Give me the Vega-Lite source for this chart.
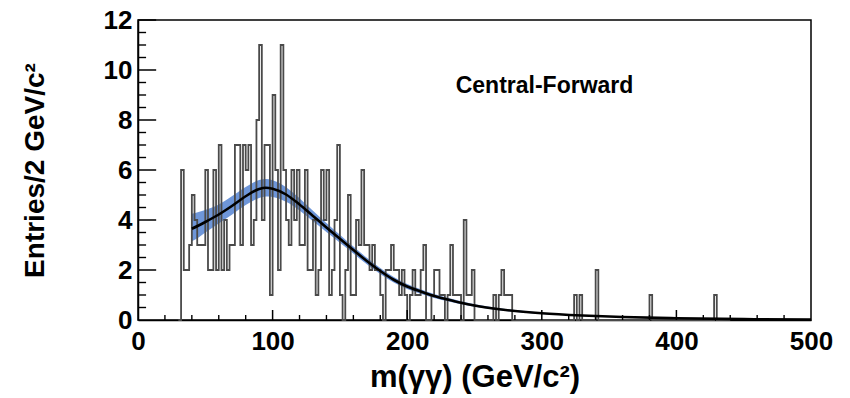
{
  "$schema": "https://vega.github.io/schema/vega-lite/v6.json",
  "width": 673,
  "height": 300,
  "autosize": {"type": "none"},
  "padding": {"left": 138, "top": 20, "right": 39, "bottom": 78},
  "background": "white",
  "config": {
    "view": {"stroke": "#000", "strokeWidth": 1.5},
    "font": "Liberation Sans",
    "axis": {"grid": false, "ticks": false, "labelFlush": false, "domainColor": "#000", "domainWidth": 1.5,
      "labelFont": "Liberation Sans", "labelFontWeight": "bold", "labelFontSize": 26, "labelColor": "#000",
      "titleFont": "Liberation Sans", "titleFontWeight": "bold", "titleColor": "#000"}
  },
  "datasets": {
    "hist": [
      {"m":30,"n":0},{"m":32,"n":6},{"m":34,"n":2},{"m":36,"n":2},{"m":38,"n":3},{"m":40,"n":5},{"m":42,"n":4},{"m":44,"n":3},{"m":46,"n":3},{"m":48,"n":3},
      {"m":50,"n":6},{"m":52,"n":2},{"m":54,"n":2},{"m":56,"n":6},{"m":58,"n":2},{"m":60,"n":7},{"m":62,"n":2},{"m":64,"n":4},{"m":66,"n":2},{"m":68,"n":3},
      {"m":70,"n":3},{"m":72,"n":7},{"m":74,"n":7},{"m":76,"n":3},{"m":78,"n":7},{"m":80,"n":6},{"m":82,"n":7},{"m":84,"n":3},{"m":86,"n":4},{"m":88,"n":8},
      {"m":90,"n":11},{"m":92,"n":4},{"m":94,"n":7},{"m":96,"n":7},{"m":98,"n":1},{"m":100,"n":9},{"m":102,"n":6},{"m":104,"n":2},{"m":106,"n":11},{"m":108,"n":6},
      {"m":110,"n":4},{"m":112,"n":3},{"m":114,"n":6},{"m":116,"n":4},{"m":118,"n":6},{"m":120,"n":3},{"m":122,"n":3},{"m":124,"n":6},{"m":126,"n":2},{"m":128,"n":2},
      {"m":130,"n":4},{"m":132,"n":1},{"m":134,"n":2},{"m":136,"n":6},{"m":138,"n":4},{"m":140,"n":6},{"m":142,"n":1},{"m":144,"n":2},{"m":146,"n":4},{"m":148,"n":7},
      {"m":150,"n":1},{"m":152,"n":0},{"m":154,"n":2},{"m":156,"n":5},{"m":158,"n":1},{"m":160,"n":1},{"m":162,"n":4},{"m":164,"n":3},{"m":166,"n":6},{"m":168,"n":3},
      {"m":170,"n":3},{"m":172,"n":2},{"m":174,"n":3},{"m":176,"n":2},{"m":178,"n":2},{"m":180,"n":1},{"m":182,"n":0},{"m":184,"n":2},{"m":186,"n":2},{"m":188,"n":3},
      {"m":190,"n":2},{"m":192,"n":2},{"m":194,"n":1},{"m":196,"n":2},{"m":198,"n":1},{"m":200,"n":0},{"m":202,"n":1},{"m":204,"n":2},{"m":206,"n":1},{"m":208,"n":1},
      {"m":210,"n":2},{"m":212,"n":3},{"m":214,"n":0},{"m":216,"n":0},{"m":218,"n":1},{"m":220,"n":2},{"m":222,"n":2},{"m":224,"n":1},{"m":226,"n":1},{"m":228,"n":0},
      {"m":230,"n":1},{"m":232,"n":3},{"m":234,"n":1},{"m":236,"n":1},{"m":238,"n":1},{"m":240,"n":0},{"m":242,"n":4},{"m":244,"n":1},{"m":246,"n":1},{"m":248,"n":2},
      {"m":250,"n":0},{"m":252,"n":0},{"m":254,"n":0},{"m":256,"n":0},{"m":258,"n":0},{"m":260,"n":0},{"m":262,"n":0},{"m":264,"n":1},{"m":266,"n":0},{"m":268,"n":1},
      {"m":270,"n":2},{"m":272,"n":1},{"m":274,"n":1},{"m":276,"n":1},{"m":278,"n":0},{"m":324,"n":0},{"m":324,"n":1},{"m":326,"n":0},{"m":328,"n":1},{"m":330,"n":0},
      {"m":340,"n":2},{"m":342,"n":0},{"m":380,"n":1},{"m":382,"n":0},{"m":428,"n":1},{"m":430,"n":0},{"m":440,"n":0}
    ],
    "fit": [
      {"m":40,"fit":3.65,"lo":3.15,"hi":4.25},
      {"m":45,"fit":3.78,"lo":3.3,"hi":4.32},
      {"m":50,"fit":3.92,"lo":3.5,"hi":4.4},
      {"m":60,"fit":4.22,"lo":3.86,"hi":4.62},
      {"m":70,"fit":4.57,"lo":4.22,"hi":4.96},
      {"m":80,"fit":4.95,"lo":4.6,"hi":5.32},
      {"m":90,"fit":5.24,"lo":4.88,"hi":5.6},
      {"m":95,"fit":5.29,"lo":4.94,"hi":5.64},
      {"m":100,"fit":5.25,"lo":4.92,"hi":5.59},
      {"m":110,"fit":5.02,"lo":4.73,"hi":5.31},
      {"m":120,"fit":4.62,"lo":4.38,"hi":4.87},
      {"m":130,"fit":4.16,"lo":3.95,"hi":4.37},
      {"m":140,"fit":3.7,"lo":3.52,"hi":3.88},
      {"m":150,"fit":3.25,"lo":3.09,"hi":3.41},
      {"m":160,"fit":2.8,"lo":2.66,"hi":2.94},
      {"m":170,"fit":2.36,"lo":2.23,"hi":2.49},
      {"m":180,"fit":1.96,"lo":1.84,"hi":2.08},
      {"m":190,"fit":1.61,"lo":1.5,"hi":1.72},
      {"m":200,"fit":1.34,"lo":1.24,"hi":1.44},
      {"m":210,"fit":1.14,"lo":1.05,"hi":1.23},
      {"m":220,"fit":0.96,"lo":0.88,"hi":1.04},
      {"m":230,"fit":0.82,"lo":0.75,"hi":0.89},
      {"m":240,"fit":0.69,"lo":0.63,"hi":0.75},
      {"m":250,"fit":0.58,"lo":0.53,"hi":0.63},
      {"m":270,"fit":0.42,"lo":0.38,"hi":0.46},
      {"m":300,"fit":0.27,"lo":0.245,"hi":0.295},
      {"m":330,"fit":0.18,"lo":0.165,"hi":0.195},
      {"m":360,"fit":0.12,"lo":0.11,"hi":0.13},
      {"m":400,"fit":0.07,"lo":0.065,"hi":0.075},
      {"m":450,"fit":0.035,"lo":0.03,"hi":0.04},
      {"m":500,"fit":0.015,"lo":0.012,"hi":0.018}
    ],
    "xmajor": [{"v":100},{"v":200},{"v":300},{"v":400}],
    "xminor": [{"v":20},{"v":40},{"v":60},{"v":80},{"v":120},{"v":140},{"v":160},{"v":180},{"v":220},{"v":240},{"v":260},{"v":280},{"v":320},{"v":340},{"v":360},{"v":380},{"v":420},{"v":440},{"v":460},{"v":480}],
    "ymajor": [{"v":2},{"v":4},{"v":6},{"v":8},{"v":10},{"v":12}],
    "yminor": [{"v":0.5},{"v":1},{"v":1.5},{"v":2.5},{"v":3},{"v":3.5},{"v":4.5},{"v":5},{"v":5.5},{"v":6.5},{"v":7},{"v":7.5},{"v":8.5},{"v":9},{"v":9.5},{"v":10.5},{"v":11},{"v":11.5}],
    "label": [{"m":302,"y":9.36,"t":"Central-Forward"}]
  },
  "layer": [
    {
      "data": {"name": "fit"},
      "mark": {"type": "area", "color": "#5584d2", "opacity": 0.85, "interpolate": "monotone"},
      "encoding": {
        "x": {"field": "m", "type": "quantitative", "scale": {"domain": [0, 500], "nice": false, "zero": false},
          "axis": {"values": [0,100,200,300,400,500], "labelPadding": 8, "title": "m(γγ) (GeV/c²)", "titleFontSize": 31, "titlePadding": 8}},
        "y": {"field": "lo", "type": "quantitative", "scale": {"domain": [0, 12], "nice": false},
          "axis": {"values": [0,2,4,6,8,10,12], "labelPadding": 6, "title": "Entries/2 GeV/c²", "titleFontSize": 28, "titlePadding": 54}},
        "y2": {"field": "hi"}
      }
    },
    {
      "data": {"name": "hist"},
      "mark": {"type": "line", "interpolate": "step-after", "color": "#4a4a4a", "strokeWidth": 1.8},
      "encoding": {
        "x": {"field": "m", "type": "quantitative"},
        "y": {"field": "n", "type": "quantitative"}
      }
    },
    {
      "data": {"name": "fit"},
      "mark": {"type": "line", "color": "#000", "strokeWidth": 2.6, "interpolate": "monotone"},
      "encoding": {
        "x": {"field": "m", "type": "quantitative"},
        "y": {"field": "fit", "type": "quantitative"}
      }
    },
    {
      "data": {"name": "xmajor"},
      "mark": {"type": "rule", "color": "#000", "strokeWidth": 1.5},
      "encoding": {
        "x": {"field": "v", "type": "quantitative"},
        "y": {"datum": 0},
        "y2": {"datum": 0.4}
      }
    },
    {
      "data": {"name": "xminor"},
      "mark": {"type": "rule", "color": "#000", "strokeWidth": 1.4},
      "encoding": {
        "x": {"field": "v", "type": "quantitative"},
        "y": {"datum": 0},
        "y2": {"datum": 0.2}
      }
    },
    {
      "data": {"name": "ymajor"},
      "mark": {"type": "rule", "color": "#000", "strokeWidth": 1.5},
      "encoding": {
        "y": {"field": "v", "type": "quantitative"},
        "x": {"datum": 0},
        "x2": {"datum": 13.5}
      }
    },
    {
      "data": {"name": "yminor"},
      "mark": {"type": "rule", "color": "#000", "strokeWidth": 1.4},
      "encoding": {
        "y": {"field": "v", "type": "quantitative"},
        "x": {"datum": 0},
        "x2": {"datum": 6}
      }
    },
    {
      "data": {"name": "label"},
      "mark": {"type": "text", "font": "Liberation Sans", "fontWeight": "bold", "fontSize": 23, "align": "center", "baseline": "middle", "color": "#000"},
      "encoding": {
        "x": {"field": "m", "type": "quantitative"},
        "y": {"field": "y", "type": "quantitative"},
        "text": {"field": "t"}
      }
    }
  ]
}
